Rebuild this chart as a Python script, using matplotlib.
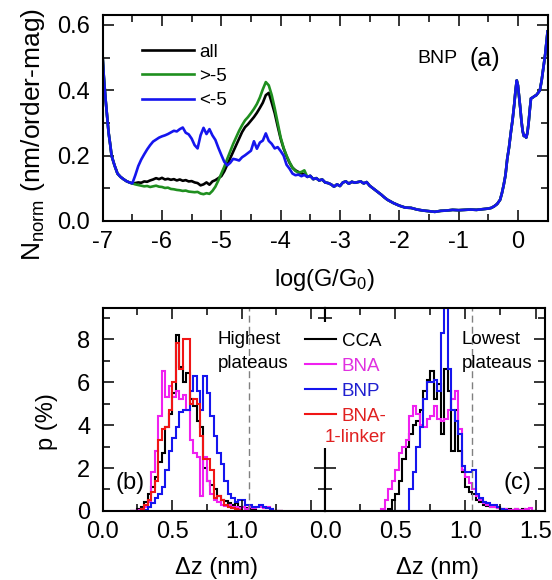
import numpy as np
import matplotlib
matplotlib.use("Agg")
import matplotlib.pyplot as plt
from matplotlib.ticker import MultipleLocator, FuncFormatter
from matplotlib.lines import Line2D
from matplotlib.patches import Rectangle

plt.rcParams['font.family'] = ['Liberation Sans', 'DejaVu Sans']
plt.rcParams['mathtext.default'] = 'regular'
plt.rcParams['axes.unicode_minus'] = False

# (a) normalised conductance histograms of BNP
# steep rise at low conductance, shared by all three curves
x_start = [-7.0, -6.98, -6.95, -6.92, -6.9, -6.87, -6.85, -6.8, -6.75, -6.7, -6.65, -6.6, -6.55, -6.5]
y_start = [0.50, 0.44, 0.37, 0.31, 0.27, 0.23, 0.20, 0.17, 0.145, 0.135, 0.128, 0.122, 0.118, 0.115]

# middle part where the curves differ, read every 0.05
x_mid = np.round(np.arange(-6.45, -3.575, 0.05), 2)
y_mid_all = [0.116, 0.118, 0.117, 0.121, 0.120, 0.124, 0.127, 0.131, 0.128, 0.132,
             0.127, 0.129, 0.126, 0.128, 0.124, 0.127, 0.123, 0.125, 0.121, 0.122,
             0.118, 0.116, 0.109, 0.112, 0.118, 0.111, 0.121, 0.125, 0.131, 0.137,
             0.152, 0.172, 0.192, 0.212, 0.232, 0.252, 0.272, 0.287, 0.296, 0.307,
             0.318, 0.331, 0.346, 0.362, 0.385, 0.392, 0.362, 0.330, 0.290, 0.252,
             0.222, 0.198, 0.178, 0.163, 0.155, 0.150, 0.146, 0.143]
y_mid_gt5 = [0.112, 0.110, 0.108, 0.106, 0.107, 0.104, 0.106, 0.108, 0.105, 0.104,
             0.101, 0.102, 0.098, 0.097, 0.095, 0.094, 0.092, 0.093, 0.090, 0.089,
             0.088, 0.089, 0.084, 0.082, 0.085, 0.083, 0.092, 0.105, 0.124, 0.145,
             0.166, 0.190, 0.213, 0.236, 0.256, 0.276, 0.293, 0.308, 0.318, 0.330,
             0.343, 0.358, 0.378, 0.403, 0.425, 0.415, 0.385, 0.345, 0.300, 0.256,
             0.224, 0.200, 0.180, 0.163, 0.153, 0.148, 0.150, 0.155]
y_mid_lt5 = [0.140, 0.168, 0.188, 0.204, 0.219, 0.232, 0.243, 0.249, 0.255, 0.259,
             0.262, 0.266, 0.271, 0.276, 0.274, 0.281, 0.286, 0.270, 0.265, 0.252,
             0.232, 0.222, 0.262, 0.285, 0.266, 0.281, 0.262, 0.248, 0.224, 0.202,
             0.181, 0.170, 0.178, 0.190, 0.188, 0.185, 0.195, 0.201, 0.208, 0.215,
             0.244, 0.221, 0.240, 0.246, 0.268, 0.245, 0.236, 0.222, 0.226, 0.214,
             0.200, 0.172, 0.160, 0.145, 0.140, 0.142, 0.137, 0.141]

# high conductance part, the three curves overlap
x_tail = [-3.55, -3.5, -3.45, -3.4, -3.35, -3.3, -3.25, -3.2, -3.15, -3.1,
          -3.05, -3.0, -2.95, -2.9, -2.85, -2.8, -2.75, -2.7, -2.65, -2.6,
          -2.55, -2.5, -2.45, -2.4, -2.35, -2.3, -2.25, -2.2, -2.15, -2.1,
          -2.05, -2.0, -1.9, -1.8, -1.7, -1.6, -1.5, -1.4, -1.3, -1.2,
          -1.1, -1.0, -0.9, -0.8, -0.7, -0.6, -0.5, -0.45, -0.4, -0.35,
          -0.3, -0.27, -0.24, -0.21, -0.18, -0.15, -0.12, -0.09, -0.06, -0.04,
          -0.02, 0.0, 0.02, 0.04, 0.06, 0.08, 0.1, 0.12, 0.14, 0.16,
          0.18, 0.2, 0.22, 0.25, 0.28, 0.31, 0.34, 0.37, 0.4, 0.43,
          0.46, 0.48, 0.5]
y_tail = [0.135, 0.138, 0.128, 0.131, 0.124, 0.127, 0.118, 0.116, 0.112, 0.105,
          0.112, 0.107, 0.118, 0.121, 0.114, 0.120, 0.117, 0.119, 0.121, 0.115,
          0.119, 0.108, 0.101, 0.094, 0.087, 0.080, 0.072, 0.065, 0.060, 0.055,
          0.051, 0.047, 0.041, 0.040, 0.035, 0.032, 0.030, 0.028, 0.031, 0.032,
          0.034, 0.033, 0.034, 0.035, 0.034, 0.036, 0.038, 0.040, 0.045, 0.052,
          0.065, 0.085, 0.110, 0.140, 0.190, 0.225, 0.270, 0.310, 0.360, 0.400,
          0.430, 0.415, 0.380, 0.345, 0.305, 0.275, 0.260, 0.262, 0.255, 0.270,
          0.300, 0.340, 0.375, 0.378, 0.382, 0.385, 0.392, 0.400, 0.430, 0.470,
          0.510, 0.545, 0.580]

labels_a = ['all', '>-5', '<-5']
colors_a = ['black', '#1f8f1f', '#1515ee']

# (b), (c) plateau length histograms, p (%)
bin_w = 0.025
edges_b = np.round(np.arange(0.2, 1.3 + bin_w / 2, bin_w), 3)
edges_c = np.round(np.arange(0.4, 1.5 + bin_w / 2, bin_w), 3)

cca_b = [0, 0, 0.1, 0.2, 0.4, 0.8, 1.1, 1.6, 2.3, 2.7, 3.9, 4.5, 5.5, 8.2, 6.7, 6.0,
         6.4, 5.2, 4.9, 4.2, 3.9, 2.0, 1.4, 1.2, 1.0, 0.7, 0.5, 0.45, 0.35, 0.3, 0.35,
         0.2, 0.2, 0.15, 0.1, 0.05, 0, 0, 0, 0, 0, 0, 0, 0]
bna_b = [0, 0, 0.05, 0.1, 0.2, 0.4, 1.8, 2.8, 4.4, 6.5, 5.3, 5.8, 5.3, 5.6, 5.2, 5.4,
         4.7, 3.3, 2.7, 2.5, 0.7, 2.5, 1.4, 0.8, 0.5, 0.4, 0.3, 0.25, 0.3, 0.2, 0.2,
         0.15, 0.2, 0.1, 0.2, 0.15, 0.2, 0.2, 0.15, 0.2, 0.1, 0, 0, 0]
bnp_b = [0, 0, 0, 0, 0.05, 0.2, 0.35, 0.6, 0.8, 1.1, 1.9, 2.8, 3.4, 3.9, 4.6, 4.7,
         4.7, 5.6, 6.3, 5.6, 4.7, 6.3, 5.5, 4.4, 3.5, 2.7, 2.2, 1.4, 0.8, 0.6, 0.4,
         0.5, 0.5, 0.3, 0.3, 0.2, 0.2, 0.3, 0.2, 0.15, 0.1, 0, 0, 0]
link_b = [0, 0, 0, 0.1, 0.3, 0.5, 0.9, 1.4, 3.3, 3.8, 3.9, 4.7, 6.0, 7.8, 6.6, 8.0,
          8.0, 5.0, 5.2, 5.0, 3.5, 2.4, 2.4, 1.9, 0.6, 0.7, 0.5, 0.3, 0.2, 0.15, 0.1,
          0.05, 0, 0, 0, 0, 0, 0, 0, 0, 0, 0, 0, 0]

cca_c = [0, 0, 0.1, 0.5, 0.8, 1.4, 2.4, 3.0, 3.6, 4.0, 4.2, 4.7, 5.6, 6.1, 6.5, 5.2,
         5.9, 3.6, 6.6, 5.6, 2.8, 4.7, 2.8, 1.8, 1.1, 0.9, 0.8, 0.5, 0.4, 0.3, 0.25,
         0.2, 0.2, 0.15, 0.1, 0.1, 0.1, 0.05, 0.1, 0.05, 0.1, 0.05, 0, 0]
bna_c = [0.1, 0.5, 1.0, 1.4, 1.9, 2.7, 3.0, 3.3, 4.4, 4.9, 4.5, 4.0, 3.9, 4.3, 4.4, 4.9,
         4.3, 4.2, 4.3, 4.7, 5.2, 5.6, 3.8, 1.9, 1.6, 1.3, 1.0, 0.7, 0.5, 0.35, 0.3,
         0.2, 0.2, 0.15, 0.1, 0.1, 0.05, 0.05, 0.1, 0.05, 0.05, 0.1, 0.15, 0]
bnp_c = [0, 0, 0, 0, 0, 0, 0, 0, 1.0, 1.8, 3.0, 3.9, 5.2, 6.0, 6.0, 6.1,
         5.6, 8.3, 9.8, 6.6, 4.7, 4.2, 3.6, 2.1, 1.8, 1.8, 1.9, 0.8, 0.6, 0.4, 0.35,
         0.3, 0.3, 0.2, 0.1, 0.05, 0, 0, 0, 0, 0, 0, 0, 0]

labels_bc = ['CCA', 'BNA', 'BNP', 'BNA-']
colors_bc = ['black', '#f020f0', '#1515ee', '#f01515']
text_colors_bc = ['black', '#e030e0', '#2020d0', '#e02020']


def style(ax):
    ax.tick_params(which='both', direction='in', top=True, right=True,
                   width=1.1, labelsize=17)
    ax.tick_params(axis='x', pad=7)
    ax.tick_params(axis='y', pad=9)
    ax.tick_params(which='major', length=8)
    ax.tick_params(which='minor', length=5)
    for s in ax.spines.values():
        s.set_linewidth(1.5)


fig = plt.figure(figsize=(5.52, 5.8), dpi=100)

# ---- panel (a)
ax_a = fig.add_axes([0.186, 0.619, 0.806, 0.355])
mids = [y_mid_all, y_mid_gt5, y_mid_lt5]
for ym, c, lab in zip(mids, colors_a, labels_a):
    xs = np.concatenate([x_start, x_mid, x_tail])
    ys = np.concatenate([y_start, ym, y_tail])
    ax_a.plot(xs, ys, color=c, lw=1.9, label=lab)
ax_a.set_xlim(-7, 0.5)
ax_a.set_ylim(0, 0.63)
ax_a.xaxis.set_major_locator(MultipleLocator(1))
ax_a.xaxis.set_minor_locator(MultipleLocator(0.5))
ax_a.yaxis.set_major_locator(MultipleLocator(0.2))
ax_a.yaxis.set_minor_locator(MultipleLocator(0.1))
ax_a.yaxis.set_major_formatter(FuncFormatter(lambda v, p: f'{v:.1f}'))
style(ax_a)
ax_a.set_xlabel('log(G/G$_0$)', fontsize=17)
ax_a.set_ylabel('N$_{norm}$ (nm/order-mag)', fontsize=19)
ax_a.xaxis.set_label_coords(0.5, -0.225)
ax_a.yaxis.set_label_coords(-0.125, 0.42)
ax_a.legend(loc='upper left', bbox_to_anchor=(0.088, 0.862), frameon=False,
            fontsize=13.5, handlelength=2.8, handletextpad=0.25,
            labelspacing=0.39, borderpad=0, borderaxespad=0)
ax_a.text(-1.7, 0.496, 'BNP', fontsize=14, va='center')
ax_a.text(-0.82, 0.496, '(a)', fontsize=18, va='center')

# ---- panels (b) and (c)
ax_b = fig.add_axes([0.186, 0.119, 0.403, 0.350])
ax_c = fig.add_axes([0.589, 0.119, 0.399, 0.350])

for vals, c in zip([cca_b, bna_b, bnp_b, link_b], colors_bc):
    ax_b.stairs(vals, edges_b, color=c, lw=1.5)
for vals, c in zip([cca_c, bna_c, bnp_c], colors_bc):
    ax_c.stairs(vals, edges_c, color=c, lw=1.5)

for ax in (ax_b, ax_c):
    ax.set_ylim(0, 9.45)
    ax.xaxis.set_major_locator(MultipleLocator(0.5))
    ax.xaxis.set_minor_locator(MultipleLocator(0.25))
    ax.yaxis.set_major_locator(MultipleLocator(2))
    ax.yaxis.set_minor_locator(MultipleLocator(1))
    ax.axvline(1.05, color='gray', ls=(0, (5, 3)), lw=1.0)
    style(ax)
    ax.set_xlabel('\u0394z (nm)', fontsize=17)
    ax.xaxis.set_label_coords(0.51, -0.226)

ax_b.set_xlim(0, 1.6)
ax_c.set_xlim(0, 1.57)
ax_b.xaxis.set_major_formatter(FuncFormatter(lambda v, p: '' if v > 1.4 else f'{v:.1f}'))
ax_c.xaxis.set_major_formatter(FuncFormatter(lambda v, p: f'{v:.1f}'))
ax_c.tick_params(labelleft=False)
ax_b.set_ylabel('p (%)', fontsize=17)
ax_b.yaxis.set_label_coords(-0.2, 0.44)

ax_b.text(0.825, 8.4, 'Highest\nplateaus', fontsize=13.5, va='top', linespacing=1.6)
ax_c.text(0.974, 8.4, 'Lowest\nplateaus', fontsize=13.5, va='top', linespacing=1.6)
ax_b.text(0.09, 1.3, '(b)', fontsize=17, va='center')
ax_c.text(1.27, 1.3, '(c)', fontsize=17, va='center')

# white box behind the legend hides the shared middle axis
ax_c.add_patch(Rectangle((-0.17, 2.93), 0.27, 5.87, facecolor='white',
                         edgecolor='none', zorder=3, clip_on=False))
handles = [Line2D([], [], color=c, lw=1.5) for c in colors_bc]
ax_c.legend(handles, labels_bc, loc='upper left', bbox_to_anchor=(-0.091, 0.878),
            frameon=False, fontsize=13.5, handlelength=1.63, handletextpad=0.32,
            labelspacing=0.42, borderpad=0, borderaxespad=0,
            labelcolor=text_colors_bc)
ax_c.text(-0.005, 3.42, '1-linker', color=text_colors_bc[3], fontsize=13.5,
          va='center', zorder=6)

fig.savefig('out.png', dpi=100)
